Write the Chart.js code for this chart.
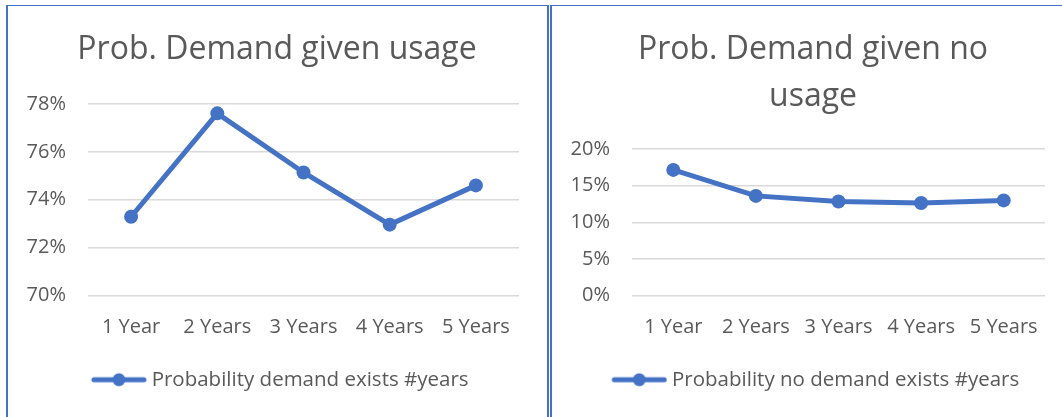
<!DOCTYPE html>
<html lang="en">
<head>
<meta charset="UTF-8">
<title>Prob. Demand</title>
<script src="https://cdn.jsdelivr.net/npm/chart.js"></script>
<style>
    body {
        margin: 0;
        width: 1062px;
        height: 417px;
        overflow: hidden;
        position: relative;
        background: #fff;
    }
    .panel {
        position: absolute;
        top: 5px;
        height: 420px;
        border-top: 1px solid #4472c4;
        border-left: 2px solid #4472c4;
    }
    #panelLeft {
        left: 6px;
        width: 539px;
        border-right: 2px solid #4472c4;
    }
    #panelRight {
        left: 550px;
        width: 530px;
    }
    .panel canvas {
        display: block;
    }
</style>
</head>
<body>
<div class="panel" id="panelLeft"><canvas id="chartUsage" width="539" height="411"></canvas></div>
<div class="panel" id="panelRight"><canvas id="chartNoUsage" width="526" height="411"></canvas></div>
<script>
    // shared categories
    const years = ['1 Year', '2 Years', '3 Years', '4 Years', '5 Years'];

    // values in percent
    const demandGivenUsage = [73.29, 77.61, 75.14, 72.96, 74.60];
    const demandGivenNoUsage = [17.15, 13.60, 12.83, 12.62, 12.98];

    const BLUE = '#4472C4';
    const TEXT = '#595959';
    const FONT = "'Open Sans', sans-serif";

    // small line-with-marker symbol for the legend
    function legendSymbol() {
        const c = document.createElement('canvas');
        c.width = 60;
        c.height = 16;
        const g = c.getContext('2d');
        g.strokeStyle = BLUE;
        g.lineWidth = 5;
        g.lineCap = 'round';
        g.beginPath();
        g.moveTo(7, 8);
        g.lineTo(57, 8);
        g.stroke();
        g.fillStyle = BLUE;
        g.beginPath();
        g.arc(32, 8, 6.5, 0, Math.PI * 2);
        g.fill();
        return c;
    }

    // title and legend are centred on the whole box, not on the padded area
    const centerBlocks = {
        id: 'centerBlocks',
        afterLayout(chart, args, opts) {
            chart.titleBlock.left = 0;
            chart.titleBlock.right = 2 * opts.title;
            chart.legend.left = 0;
            chart.legend.right = 2 * opts.legend;
        }
    };

    function drawChart(id, title, label, values, yMin, yMax, step, padRight, titleGap, titleX, legendX) {
        const symbol = legendSymbol();
        return new Chart(document.getElementById(id), {
            type: 'line',
            data: {
                labels: years,
                datasets: [{
                    label: label,
                    data: values,
                    borderColor: BLUE,
                    backgroundColor: BLUE,
                    borderWidth: 5,
                    pointRadius: 7,
                    pointBorderWidth: 0,
                    pointBackgroundColor: BLUE,
                    tension: 0
                }]
            },
            plugins: [centerBlocks],
            options: {
                responsive: false,
                animation: false,
                devicePixelRatio: 1,
                layout: { padding: { left: 0, right: padRight, top: 0, bottom: 17 } },
                plugins: {
                    centerBlocks: { title: titleX, legend: legendX },
                    title: {
                        display: true,
                        text: title,
                        color: TEXT,
                        font: { family: FONT, size: 32, weight: 'normal', lineHeight: 1.45 },
                        padding: { top: 20.8, bottom: titleGap }
                    },
                    legend: {
                        position: 'bottom',
                        labels: {
                            color: TEXT,
                            font: { family: FONT, size: 20.5 },
                            usePointStyle: true,
                            pointStyleWidth: 49,
                            padding: 0,
                            generateLabels: chart => chart.data.datasets.map((ds, i) => ({
                                text: ds.label,
                                fillStyle: BLUE,
                                strokeStyle: BLUE,
                                lineWidth: 0,
                                pointStyle: symbol,
                                fontColor: TEXT,
                                hidden: false,
                                datasetIndex: i
                            }))
                        }
                    },
                    tooltip: { enabled: false }
                },
                scales: {
                    x: {
                        offset: true,
                        grid: { display: false },
                        border: { display: false },
                        ticks: {
                            color: TEXT,
                            font: { family: FONT, size: 20 },
                            padding: 12,
                            maxRotation: 0,
                            autoSkip: false
                        },
                        afterFit: s => { s.height = 74; }
                    },
                    y: {
                        min: yMin,
                        max: yMax,
                        ticks: {
                            stepSize: step,
                            padding: 22,
                            color: TEXT,
                            font: { family: FONT, size: 20 },
                            callback: v => v + '%'
                        },
                        grid: { color: '#d9d9d9', lineWidth: 1.5, drawTicks: false },
                        border: { display: false },
                        afterFit: s => { s.width = 80; }
                    }
                }
            }
        });
    }

    drawChart('chartUsage', 'Prob. Demand given usage',
        'Probability demand exists #years', demandGivenUsage, 70, 78, 2, 28, 30.8, 269, 272.5);
    drawChart('chartNoUsage', ['Prob. Demand given no', 'usage'],
        'Probability no demand exists #years', demandGivenNoUsage, 0, 20, 5, 33, 29.4, 261, 264);
</script>
</body>
</html>
